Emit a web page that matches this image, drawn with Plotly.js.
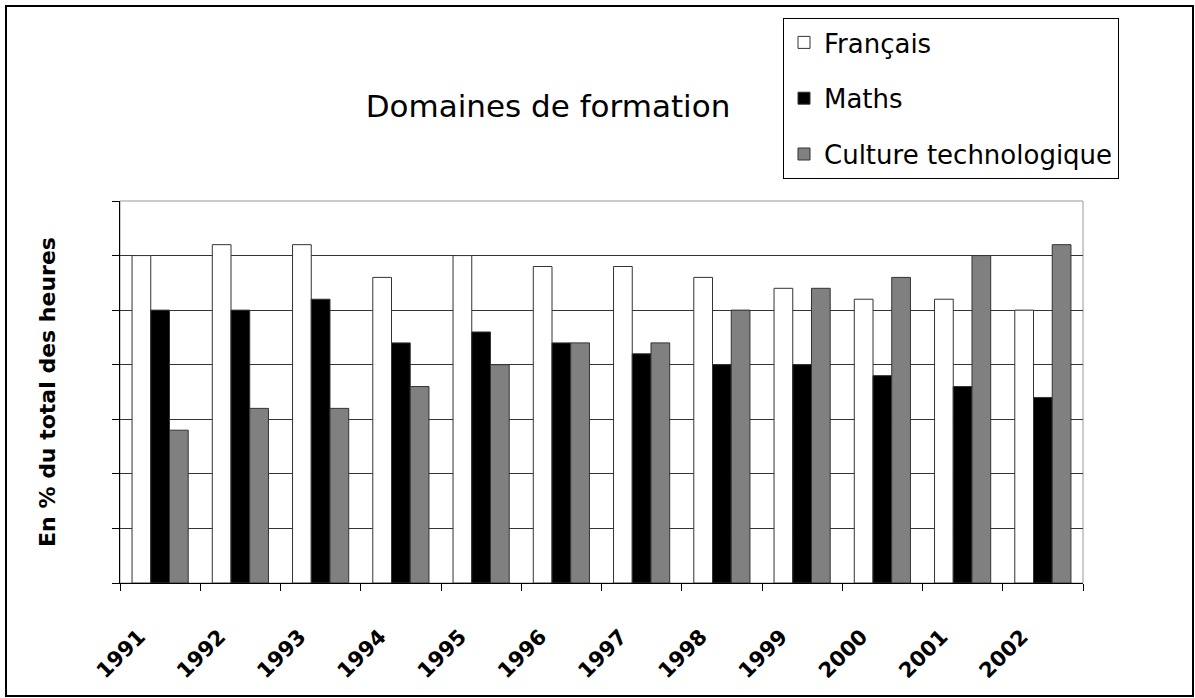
<!DOCTYPE html>
<html>
<head>
<meta charset="utf-8">
<script src="https://cdn.plot.ly/plotly-3.0.1.min.js"></script>
<style>
  html, body { margin: 0; padding: 0; background: #fff; }
  #chart { width: 1195px; height: 698px; }
</style>
</head>
<body>
<div id="chart"></div>
<script>
// Data (% of total hours, grid step 5)
const years = ['1991','1992','1993','1994','1995','1996','1997','1998','1999','2000','2001','2002'];
const francais = [30, 31, 31, 28, 30, 29, 29, 28, 27, 26, 26, 25];
const maths    = [25, 25, 26, 22, 23, 22, 21, 20, 20, 19, 18, 17];
const culture  = [14, 16, 16, 18, 20, 22, 22, 25, 27, 28, 30, 31];
const seriesNames = ['Français', 'Maths', 'Culture technologique'];

const W = 1195, H = 698;
const M = { l: 120, r: 112, t: 201, b: 115 };
const PW = W - M.l - M.r, PH = H - M.t - M.b;
const px2x = x => (x - M.l) / PW;
const px2y = y => (H - M.b - y) / PH;

const FONT = '"Comic Sans MS", "DejaVu Sans", sans-serif';
const outline = { color: '#333', width: 1 };

const traces = [
  { type: 'bar', name: seriesNames[0], x: years, y: francais, legendgroup: 'a',
    marker: { color: '#ffffff', line: outline } },
  { type: 'bar', name: seriesNames[1], x: years, y: maths, legendgroup: 'b',
    marker: { color: '#000000', line: outline } },
  { type: 'bar', name: seriesNames[2], x: years, y: culture, legendgroup: 'c',
    marker: { color: '#808080', line: outline } }
];

const layout = {
  width: W, height: H,
  margin: M,
  paper_bgcolor: '#fff', plot_bgcolor: '#fff',
  font: { family: FONT, color: '#000' },
  title: { text: 'Domaines de formation', font: { family: FONT, size: 31, color: '#000' },
           x: px2x(548), xanchor: 'center', xref: 'paper',
           y: 1 - 106 / H, yanchor: 'middle', yref: 'container' },
  barmode: 'group', bargap: 0.3, bargroupgap: 0,
  showlegend: true,
  legend: {
    x: px2x(783), y: px2y(18), xanchor: 'left', yanchor: 'top',
    bgcolor: '#fff', bordercolor: '#000', borderwidth: 1,
    font: { family: FONT, size: 26, color: '#000' },
    traceorder: 'grouped', tracegroupgap: 19
  },
  xaxis: {
    type: 'category', tickson: 'boundaries', ticks: 'outside', ticklen: 7,
    tickcolor: '#000', showline: true, linecolor: '#000', linewidth: 1,
    showgrid: false, tickangle: -45,
    tickfont: { family: '"DejaVu Sans", sans-serif', size: 21, color: '#000', weight: 'bold' },
    ticklabelstandoff: 32, ticklabelshift: -21, zeroline: false
  },
  yaxis: {
    range: [0, 35], dtick: 5, tick0: 0, showticklabels: false,
    ticks: 'outside', ticklen: 7, tickcolor: '#000',
    showline: true, linecolor: '#000', linewidth: 1,
    showgrid: true, gridcolor: '#333', gridwidth: 1, zeroline: false,
    automargin: true,
    title: { text: 'En % du total des heures', standoff: 50,
             font: { family: '"DejaVu Sans", sans-serif', size: 22, color: '#000', weight: 'bold' } }
  },
  shapes: [
    { type: 'rect', xref: 'paper', yref: 'paper', x0: 0, x1: 1, y0: 0, y1: 1,
      line: { color: '#999', width: 1 }, layer: 'below' },
    { type: 'rect', xref: 'paper', yref: 'paper',
      x0: px2x(6), x1: px2x(1193), y0: px2y(696), y1: px2y(6),
      line: { color: '#000', width: 2 } }
  ]
};

Plotly.newPlot('chart', traces, layout, { displayModeBar: false, staticPlot: true });
</script>
</body>
</html>
